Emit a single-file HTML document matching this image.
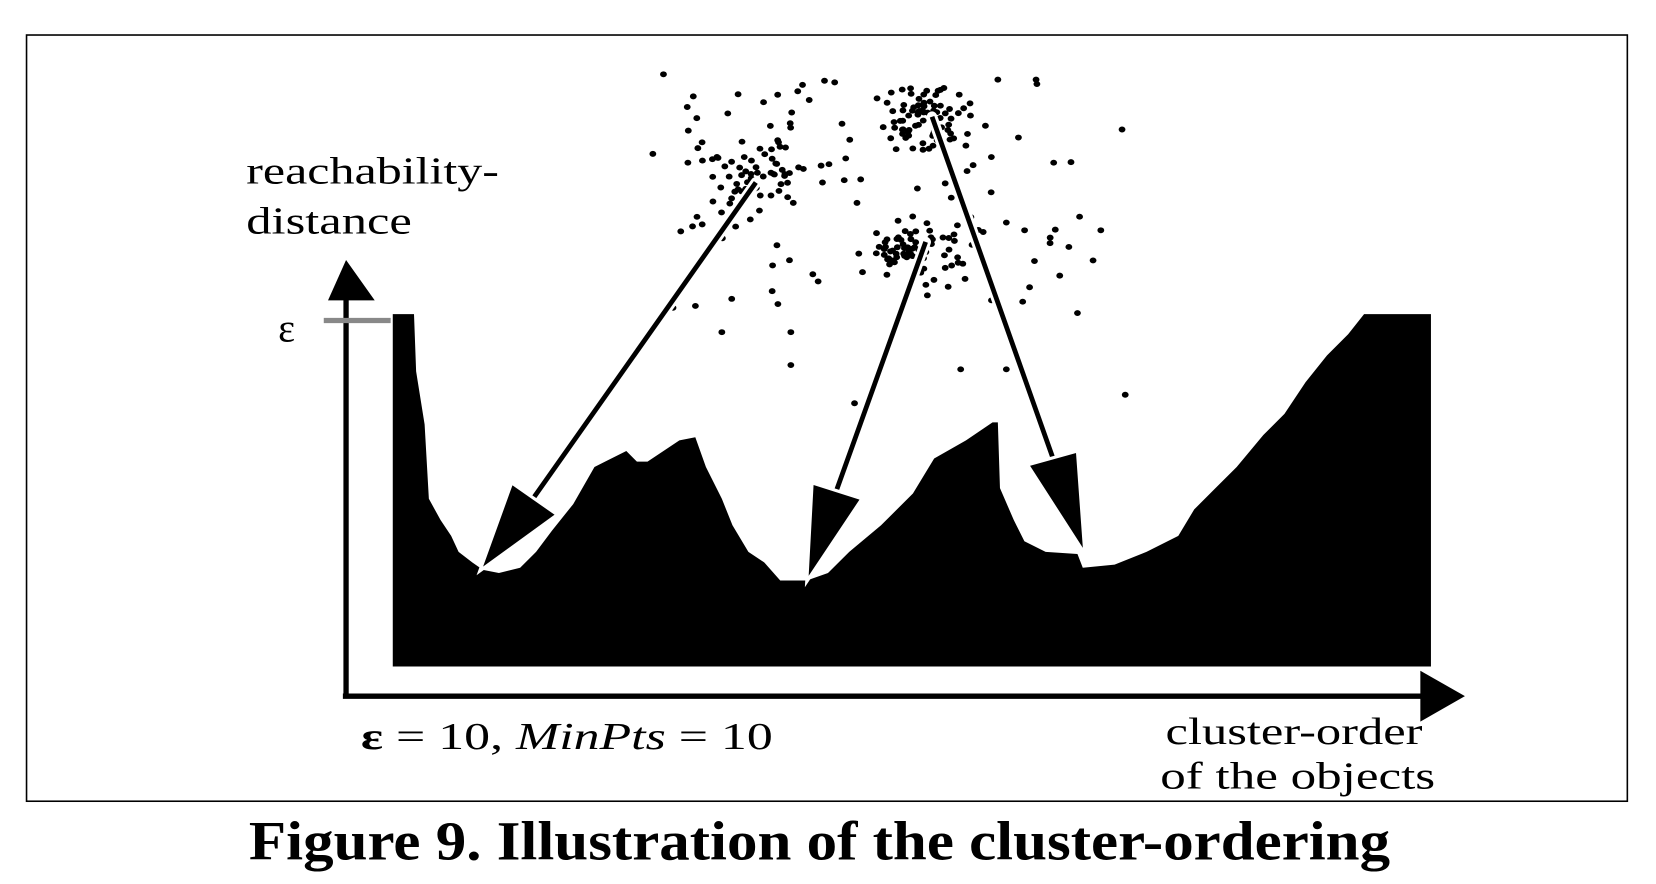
<!DOCTYPE html>
<html><head><meta charset="utf-8"><style>
html,body{margin:0;padding:0;background:#fff;}
svg{display:block;}
text{font-family:"Liberation Serif",serif;fill:#000;}
</style></head><body>
<svg id="s" width="1656" height="884" viewBox="0 0 1560 833" preserveAspectRatio="none" xmlns="http://www.w3.org/2000/svg">
<rect x="25" y="33" width="1508" height="722" fill="none" stroke="#000" stroke-width="1.5"/>
<g id="dots"></g>
<polygon fill="#000" points="370,628 370,296 390,296 392,350 400,400 404,470 415,490 425,505 432,520 445,530 455,537 470,540 490,535 505,520 520,500 540,475 560,440 570,435 590,425 600,435 610,435 625,425 640,415 655,412 665,440 680,470 690,495 705,520 720,530 735,547 760,547 780,540 800,520 830,495 860,465 880,432 910,415 935,398 940,398 942,460 955,490 965,510 985,520 1015,522 1020,535 1050,532 1080,520 1110,505 1125,480 1145,460 1165,440 1190,410 1210,390 1230,360 1250,335 1270,315 1285,296 1348,296 1348,628"/>
<g stroke="#fff" stroke-width="10" fill="none" stroke-linecap="round">
<line x1="712" y1="172" x2="502" y2="470"/>
<line x1="872" y1="228" x2="788" y2="462"/>
<line x1="878" y1="110" x2="992" y2="432"/>
</g>
<g stroke="#000" stroke-width="4.5" fill="none">
<line x1="712" y1="172" x2="502" y2="470"/>
<line x1="872" y1="228" x2="788" y2="462"/>
<line x1="878" y1="110" x2="992" y2="432"/>
</g>
<g fill="#000" stroke="#fff" stroke-width="3">
<polygon points="452,538 482,455 525,485"/>
<polygon points="760,548 765,455 812,470"/>
<polygon points="1022,522 968,438 1015,425"/>
</g>
<line x1="326" y1="658" x2="326" y2="280" stroke="#000" stroke-width="5"/>
<polygon points="326,245 309,283 353,283" fill="#000"/>
<line x1="323" y1="656" x2="1342" y2="656" stroke="#000" stroke-width="5"/>
<polygon points="1380,656 1338,632 1338,680" fill="#000"/>
<line x1="305" y1="302" x2="368" y2="302" stroke="#888" stroke-width="5"/>
<text x="262" y="322" font-size="38">ε</text>
<text x="232" y="173" font-size="36" textLength="238" lengthAdjust="spacingAndGlyphs">reachability-</text>
<text x="232" y="220" font-size="36" textLength="156" lengthAdjust="spacingAndGlyphs">distance</text>
<text x="340" y="706" font-size="36" textLength="388" lengthAdjust="spacingAndGlyphs"><tspan font-weight="bold">ε</tspan> = 10, <tspan font-style="italic">MinPts</tspan> = 10</text>
<text x="1098" y="701" font-size="36" textLength="242" lengthAdjust="spacingAndGlyphs">cluster-order</text>
<text x="1093" y="743" font-size="36" textLength="259" lengthAdjust="spacingAndGlyphs">of the objects</text>
<text x="772" y="810" font-size="52" font-weight="bold" text-anchor="middle" textLength="1075" lengthAdjust="spacingAndGlyphs">Figure 9.  Illustration of the cluster-ordering</text>
</svg>
<script>
(function(){
var seed=12345;function r(){seed=(seed*16807)%2147483647;return seed/2147483647;}
function g(){return (r()+r()+r()-1.5)/1.5;}
var out="";
function dot(x,y){out+='<ellipse cx="'+x.toFixed(1)+'" cy="'+y.toFixed(1)+'" rx="3.2" ry="2.8" fill="#000"/>';}
var i;
for(i=0;i<60;i++)dot(708+g()*70,170+g()*55);
for(i=0;i<75;i++)dot(872+g()*65,112+g()*45);
for(i=0;i<65;i++)dot(866+g()*60,230+g()*45);
for(i=0;i<90;i++){var x=630+r()*400,y=75+r()*215;dot(x,y);}
var extra=[[625,70],[680,313],[745,313],[745,344],[805,380],[905,348],[948,348],[1060,372],[1015,295],[1057,122],[1037,217],[634,290],[836,325],[934,283],[615,145],[756,80],[976,75],[940,75]];
extra.forEach(function(p){dot(p[0],p[1]);});
document.getElementById("dots").innerHTML=out;
})();
</script>
</body></html>
